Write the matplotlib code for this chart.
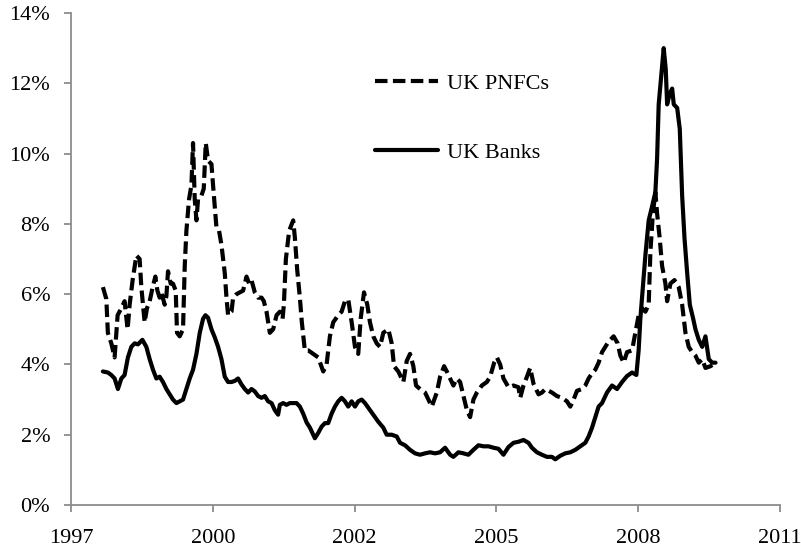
import matplotlib
matplotlib.use("Agg")
import matplotlib.pyplot as plt
from matplotlib.ticker import FixedLocator, FuncFormatter

# ---------------- data (decimal years, percent) ----------------
pnfc_year = [1998.006, 1998.072, 1998.102, 1998.168, 1998.232, 1998.290, 1998.362, 1998.425,
             1998.483, 1998.522, 1998.580, 1998.652, 1998.715, 1998.748, 1998.812, 1998.857,
             1998.909, 1998.967, 1999.019, 1999.058, 1999.102, 1999.135, 1999.199, 1999.232,
             1999.263, 1999.315, 1999.359, 1999.412, 1999.437, 1999.489, 1999.553, 1999.586,
             1999.618, 1999.669, 1999.715, 1999.746, 1999.779, 1999.812, 1999.843, 1999.908,
             1999.953, 1999.992, 2000.036, 2000.102, 2000.133, 2000.198, 2000.249, 2000.295,
             2000.359, 2000.392, 2000.423, 2000.489, 2000.520, 2000.585, 2000.649, 2000.713,
             2000.779, 2000.829, 2000.875, 2000.939, 2001.003, 2001.069, 2001.113, 2001.165,
             2001.229, 2001.293, 2001.359, 2001.422, 2001.475, 2001.500, 2001.539, 2001.602,
             2001.680, 2001.713, 2001.757, 2001.809, 2001.847, 2001.905, 2001.970, 2002.066,
             2002.163, 2002.260, 2002.325, 2002.389, 2002.453, 2002.550, 2002.615, 2002.679,
             2002.743, 2002.809, 2002.873, 2002.936, 2002.983, 2003.047, 2003.111, 2003.162,
             2003.227, 2003.292, 2003.356, 2003.420, 2003.517, 2003.582, 2003.627, 2003.710,
             2003.807, 2003.872, 2003.936, 2004.000, 2004.052, 2004.130, 2004.226, 2004.290,
             2004.356, 2004.453, 2004.516, 2004.594, 2004.646, 2004.710, 2004.773, 2004.839,
             2004.903, 2004.967, 2005.033, 2005.096, 2005.160, 2005.226, 2005.323, 2005.419,
             2005.483, 2005.560, 2005.613, 2005.676, 2005.740, 2005.837, 2005.934, 2006.030,
             2006.063, 2006.127, 2006.193, 2006.256, 2006.320, 2006.417, 2006.483, 2006.549,
             2006.676, 2006.772, 2006.869, 2006.966, 2007.030, 2007.094, 2007.160, 2007.256,
             2007.320, 2007.384, 2007.450, 2007.513, 2007.577, 2007.643, 2007.770, 2007.867,
             2007.945, 2007.997, 2008.061, 2008.126, 2008.223, 2008.287, 2008.350, 2008.416,
             2008.480, 2008.544, 2008.577, 2008.625, 2008.673, 2008.706, 2008.756, 2008.803,
             2008.867, 2008.900, 2008.963, 2009.041, 2009.124, 2009.190, 2009.254, 2009.317,
             2009.383, 2009.447, 2009.511, 2009.577, 2009.640, 2009.737, 2009.834]
pnfc_pct = [6.2, 5.86, 4.9, 4.6, 4.2, 5.4, 5.6, 5.8,
            5.0, 5.7, 6.4, 7.1, 7.0, 6.2, 5.2, 5.6,
            5.8, 6.2, 6.5, 6.1, 5.9, 6.05, 5.7, 5.95,
            6.65, 6.3, 6.3, 6.1, 4.9, 4.8, 5.0, 6.8,
            7.8, 8.7, 9.1, 10.3, 8.7, 8.1, 8.7, 8.8,
            9.0, 10.3, 9.8, 9.7, 9.1, 7.9, 7.8, 7.4,
            6.6, 5.9, 5.4, 5.5, 5.9, 6.0, 6.05, 6.1,
            6.5, 6.3, 6.4, 6.05, 5.9, 5.9, 5.8, 5.5,
            4.9, 5.0, 5.4, 5.5, 5.3, 5.7, 7.0, 7.8,
            8.1, 7.6, 6.7, 5.9, 5.2, 4.4, 4.4, 4.3,
            4.2, 3.8, 4.0, 4.8, 5.2, 5.4, 5.5, 5.8,
            5.85, 5.2, 4.5, 4.3, 5.3, 6.05, 5.7, 5.2,
            4.8, 4.6, 4.5, 4.9, 5.0, 4.6, 3.95, 3.8,
            3.5, 4.1, 4.3, 3.95, 3.4, 3.3, 3.2, 3.0,
            2.8, 3.2, 3.65, 3.95, 3.8, 3.6, 3.4, 3.6,
            3.5, 3.1, 2.7, 2.5, 3.0, 3.2, 3.4, 3.5,
            3.65, 4.05, 4.2, 4.0, 3.6, 3.35, 3.4, 3.35,
            3.05, 3.4, 3.65, 3.9, 3.45, 3.15, 3.2, 3.3,
            3.2, 3.1, 3.05, 2.95, 2.8, 3.0, 3.25, 3.3,
            3.4, 3.6, 3.75, 3.85, 4.05, 4.35, 4.65, 4.8,
            4.6, 4.25, 4.05, 4.35, 4.4, 4.9, 5.4, 5.6,
            5.5, 5.7, 7.2, 8.3, 8.9, 8.3, 7.6, 6.8,
            6.3, 5.8, 6.3, 6.4, 6.2, 5.7, 4.9, 4.5,
            4.35, 4.25, 4.05, 4.15, 3.9, 3.95, 4.05]

banks_year = [1998.006, 1998.102, 1998.168, 1998.232, 1998.296, 1998.362, 1998.425, 1998.489,
              1998.555, 1998.619, 1998.683, 1998.768, 1998.845, 1998.909, 1998.973, 1999.038,
              1999.102, 1999.166, 1999.232, 1999.296, 1999.359, 1999.425, 1999.489, 1999.553,
              1999.618, 1999.682, 1999.746, 1999.812, 1999.876, 1999.940, 1999.986, 2000.036,
              2000.102, 2000.166, 2000.230, 2000.295, 2000.359, 2000.423, 2000.489, 2000.552,
              2000.616, 2000.682, 2000.746, 2000.810, 2000.875, 2000.939, 2001.003, 2001.069,
              2001.132, 2001.196, 2001.262, 2001.325, 2001.389, 2001.422, 2001.486, 2001.551,
              2001.615, 2001.679, 2001.745, 2001.809, 2001.873, 2001.939, 2002.003, 2002.099,
              2002.163, 2002.229, 2002.293, 2002.356, 2002.422, 2002.486, 2002.550, 2002.615,
              2002.679, 2002.743, 2002.809, 2002.873, 2002.936, 2003.002, 2003.066, 2003.129,
              2003.226, 2003.323, 2003.420, 2003.485, 2003.582, 2003.679, 2003.743, 2003.839,
              2003.936, 2004.033, 2004.129, 2004.226, 2004.323, 2004.419, 2004.516, 2004.613,
              2004.710, 2004.773, 2004.870, 2004.967, 2005.063, 2005.160, 2005.257, 2005.353,
              2005.450, 2005.547, 2005.643, 2005.740, 2005.837, 2005.934, 2006.030, 2006.127,
              2006.223, 2006.289, 2006.386, 2006.483, 2006.579, 2006.676, 2006.740, 2006.836,
              2006.933, 2007.030, 2007.127, 2007.223, 2007.320, 2007.384, 2007.450, 2007.513,
              2007.577, 2007.643, 2007.739, 2007.836, 2007.933, 2008.030, 2008.126, 2008.223,
              2008.306, 2008.350, 2008.383, 2008.416, 2008.480, 2008.544, 2008.610, 2008.673,
              2008.706, 2008.737, 2008.783, 2008.834, 2008.873, 2008.900, 2008.950, 2008.997,
              2009.028, 2009.094, 2009.144, 2009.190, 2009.235, 2009.287, 2009.338, 2009.403,
              2009.447, 2009.511, 2009.577, 2009.640, 2009.704, 2009.770, 2009.834]
banks_pct = [3.8, 3.77, 3.7, 3.6, 3.3, 3.6, 3.7, 4.2,
             4.5, 4.6, 4.57, 4.7, 4.5, 4.15, 3.85, 3.6,
             3.65, 3.5, 3.3, 3.15, 3.0, 2.9, 2.95, 3.0,
             3.3, 3.6, 3.85, 4.3, 4.9, 5.3, 5.4, 5.33,
             5.0, 4.77, 4.5, 4.15, 3.65, 3.5, 3.5, 3.53,
             3.6, 3.43, 3.3, 3.2, 3.3, 3.23, 3.1, 3.05,
             3.1, 2.95, 2.9, 2.7, 2.57, 2.85, 2.9, 2.85,
             2.9, 2.9, 2.9, 2.8, 2.6, 2.35, 2.2, 1.9,
             2.05, 2.23, 2.33, 2.33, 2.6, 2.8, 2.95, 3.05,
             2.95, 2.8, 2.95, 2.8, 2.95, 3.0, 2.9, 2.77,
             2.57, 2.37, 2.2, 2.0, 2.0, 1.95, 1.77, 1.7,
             1.57, 1.47, 1.43, 1.47, 1.5, 1.47, 1.5, 1.63,
             1.43, 1.37, 1.5, 1.47, 1.43, 1.57, 1.7, 1.67,
             1.67, 1.63, 1.6, 1.43, 1.65, 1.77, 1.8, 1.85,
             1.77, 1.63, 1.5, 1.43, 1.37, 1.37, 1.3, 1.4,
             1.47, 1.5, 1.57, 1.67, 1.77, 1.95, 2.2, 2.5,
             2.8, 2.9, 3.2, 3.4, 3.3, 3.5, 3.67, 3.77,
             3.7, 4.4, 5.3, 5.9, 7.1, 8.1, 8.5, 8.9,
             9.85, 11.4, 12.15, 13.0, 12.4, 11.4, 11.7, 11.85,
             11.4, 11.3, 10.7, 8.8, 7.6, 6.6, 5.7, 5.3,
             5.0, 4.7, 4.5, 4.8, 4.15, 4.05, 4.05]

series_labels = ["UK PNFCs", "UK Banks"]
x_tick_labels = ["1997", "2000", "2002", "2005", "2008", "2011"]
y_ticks = [0, 2, 4, 6, 8, 10, 12, 14]

# ---------------- figure ----------------
plt.rcParams['font.family'] = ['Liberation Serif', 'DejaVu Serif']
FS = 16

fig = plt.figure(figsize=(8.01, 5.5), dpi=100)
ax = fig.add_axes([71 / 801, 45 / 550, (780 - 71) / 801, (505 - 13) / 550])

t0 = 1997.39
step = 1000 / 365.25
xticks = [t0 + k * step for k in range(len(x_tick_labels))]

ax.plot(pnfc_year, pnfc_pct, color='black', lw=3.0, linestyle=(0, (3, 1.3)),
        dash_capstyle='butt', solid_joinstyle='round', label=series_labels[0])
ax.plot(banks_year, banks_pct, color='black', lw=3.0, linestyle='-',
        solid_capstyle='round', solid_joinstyle='round', label=series_labels[1])

ax.set_xlim(xticks[0], xticks[-1])
ax.set_ylim(0, 14)
ax.xaxis.set_major_locator(FixedLocator(xticks))
ax.set_xticklabels(x_tick_labels)
ax.yaxis.set_major_locator(FixedLocator(y_ticks))
ax.yaxis.set_major_formatter(FuncFormatter(lambda v, p: f"{int(round(v))}%"))

for s in ['top', 'right']:
    ax.spines[s].set_visible(False)
for s in ['left', 'bottom']:
    ax.spines[s].set_color('#8c8c8c')
    ax.spines[s].set_linewidth(1.3)

ax.tick_params(axis='both', which='major', direction='out', length=5, width=1.3,
               color='#8c8c8c', labelsize=FS, labelcolor='black')
ax.tick_params(axis='x', pad=12)
ax.tick_params(axis='y', pad=10)

leg = ax.legend(loc='upper left', bbox_to_anchor=(375 / 801, 1 - 73 / 550),
                bbox_transform=fig.transFigure, frameon=False, fontsize=FS,
                handlelength=2.85, handletextpad=0.38, labelspacing=2.2,
                borderpad=0, borderaxespad=0)

fig.savefig("out.png", dpi=100)
